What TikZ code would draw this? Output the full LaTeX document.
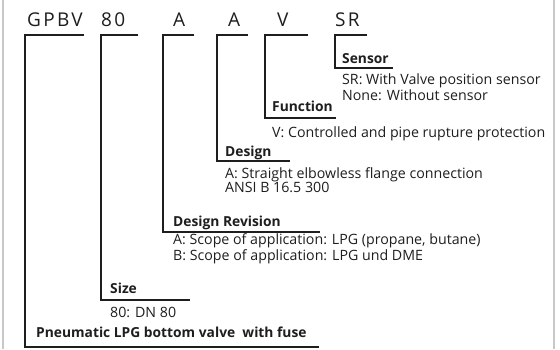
\documentclass[tikz,border=0pt]{standalone}
\usepackage{fontspec}
\setmainfont{Open Sans}
\definecolor{ink}{HTML}{1E1E1E}
\definecolor{framegray}{HTML}{C8C8C8}
\tikzset{
  code/.style={anchor=base west, inner sep=0pt, text=ink,
    font=\fontsize{19}{21}\selectfont\addfontfeatures{LetterSpace=12}},
  field/.style={anchor=base west, inner sep=0pt, text=ink,
    font=\fontsize{13.8}{15}\selectfont\bfseries},
  note/.style={anchor=base west, inner sep=0pt, align=left, text=ink,
    font=\fontsize{14.2}{14}\selectfont},
  bracket/.style={line width=1.3pt, ink},
}
\begin{document}
\begin{tikzpicture}[x=1pt,y=1pt]
\useasboundingbox (0,0) rectangle (560,349);
\draw[framegray, line width=1.6pt] (3,0) -- (3,349);
\draw[framegray, line width=1.6pt] (554,0) -- (554,349);

% type code
\node[code] (gpbv) at (27,322) {GPBV};
\node[code] (dn) at (101,322) {80};
\node[code] (rev) at (173,322) {A};
\node[code] (des) at (228,322) {A};
\node[code] (fun) at (277,322) {V};
\node[code] (sr) at (335,322) {SR};

\coordinate (gpbv-a) at (25,314);  \coordinate (gpbv-b) at (84,314);
\coordinate (dn-a) at (101,314);   \coordinate (dn-b) at (138,314);
\coordinate (rev-a) at (163,314);  \coordinate (rev-b) at (194,314);
\coordinate (des-a) at (217,314);  \coordinate (des-b) at (248,314);
\coordinate (fun-a) at (265,314);  \coordinate (fun-b) at (308,314);
\coordinate (sr-a) at (335,314);   \coordinate (sr-b) at (367,314);

% fields (multi-line notes sit on their last line)
\node[field] (sensor) at (342,286) {Sensor};
\node[note] (sensor-txt) at (342,249) {SR: With Valve position sensor\\None: Without sensor};
\coordinate (sensor-end) at (393,281);

\node[field] (function) at (272,237) {Function};
\node[note] (function-txt) at (272,212) {V: Controlled and pipe rupture protection};
\coordinate (function-end) at (336,231);

\node[field] (design) at (225,193) {Design};
\node[note] (design-txt) at (225,157) {A: Straight elbowless flange connection\\ANSI B 16.5 300};
\coordinate (design-end) at (290,188);

\node[field] (revision) at (173,123) {Design Revision};
\node[note] (revision-txt) at (173,89) {A: Scope of application: LPG (propane, butane)\\B: Scope of application: LPG und DME};
\coordinate (revision-end) at (320,117);

\node[field] (size) at (110,56) {Size};
\node[note] (size-txt) at (110,32) {80: DN 80};
\coordinate (size-end) at (190,49);

\node[field] (valve) at (36,12) {Pneumatic LPG bottom valve~ with fuse};
\coordinate (valve-end) at (319,2);

% brackets
\draw[bracket] (sr-b) -- (sr-a) |- (sensor-end);
\draw[bracket] (fun-b) -- (fun-a) |- (function-end);
\draw[bracket] (des-b) -- (des-a) |- (design-end);
\draw[bracket] (rev-b) -- (rev-a) |- (revision-end);
\draw[bracket] (dn-b) -- (dn-a) |- (size-end);
\draw[bracket] (gpbv-b) -- (gpbv-a) |- (valve-end);
\end{tikzpicture}
\end{document}
